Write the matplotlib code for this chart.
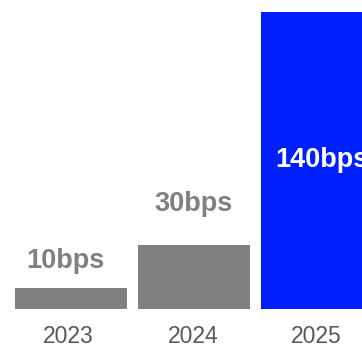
import matplotlib
matplotlib.use("Agg")
import matplotlib.pyplot as plt
from matplotlib.transforms import ScaledTranslation

years = ["2023", "2024", "2025"]
values = [10, 30, 140]
labels = ["10bps", "30bps", "140bps"]
bar_colors = ["#808080", "#808080", "#001FFF"]

plt.rcParams["font.family"] = ["Liberation Sans", "DejaVu Sans"]

W, H, DPI = 362, 346, 100
fig = plt.figure(figsize=(W / DPI, H / DPI), dpi=DPI)
bottom_px = 37.3
ax = fig.add_axes([0, bottom_px / H, 1, (H - bottom_px) / H])

x = list(range(len(years)))
ax.bar(x, values, width=0.91, color=bar_colors)
ax.set_xlim(-0.577, 2.366)
ax.set_ylim(0, (H - bottom_px) / 2.119)

for s in ax.spines.values():
    s.set_visible(False)
ax.set_yticks([])
ax.set_xticks(x, years)
ax.tick_params(axis="x", length=0, pad=24.9, labelsize=16.5, labelcolor="#595959")
nudges = [-3, -1, -1]
for lbl, dx in zip(ax.get_xticklabels(), nudges):
    lbl.set_verticalalignment("baseline")
    lbl.set_transform(lbl.get_transform() + ScaledTranslation(dx / DPI, 0, fig.dpi_scale_trans))

# value labels: first two above their bars, the last inside the bar
ax.annotate(labels[0], (x[0], values[0]), xytext=(-6, 20), textcoords="offset pixels",
            ha="center", va="baseline", fontsize=19.5, fontweight="bold", color="#808080")
ax.annotate(labels[1], (x[1], values[1]), xytext=(0, 34), textcoords="offset pixels",
            ha="center", va="baseline", fontsize=19.5, fontweight="bold", color="#808080")
ax.annotate(labels[2], (x[2], values[2] / 2), xytext=(5, 0), textcoords="offset pixels",
            ha="center", va="center", fontsize=19.5, fontweight="bold", color="white",
            annotation_clip=False)

fig.savefig("out.png", dpi=DPI)
